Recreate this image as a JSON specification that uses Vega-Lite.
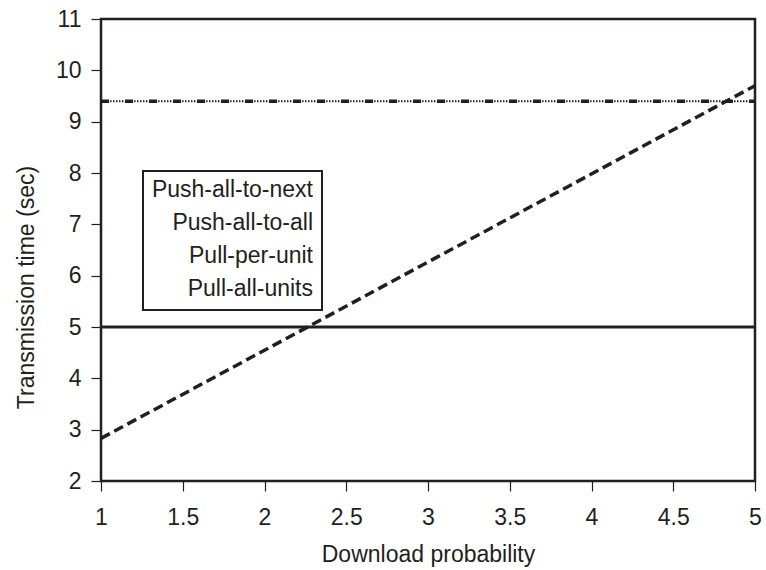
{
  "$schema": "https://vega.github.io/schema/vega-lite/v6.json",
  "width": 654,
  "height": 462,
  "autosize": "none",
  "padding": {"left": 101, "top": 19, "right": 11, "bottom": 89},
  "background": "white",
  "config": {
    "font": "Liberation Sans",
    "view": {"stroke": "#231f20", "strokeWidth": 2.5},
    "axis": {
      "domain": false,
      "grid": false,
      "tickColor": "#231f20",
      "tickWidth": 1.2,
      "tickSize": 10,
      "labelFont": "Liberation Sans",
      "labelFontSize": 23,
      "labelColor": "#231f20",
      "titleFont": "Liberation Sans",
      "titleFontSize": 23,
      "titleFontWeight": "normal",
      "titleColor": "#231f20"
    },
    "legend": {
      "orient": "none",
      "legendX": 42,
      "legendY": 152,
      "padding": 9,
      "strokeColor": "#231f20",
      "strokeWidth": 2,
      "fillColor": "white",
      "symbolType": "stroke",
      "symbolSize": 11664,
      "symbolStrokeColor": "#231f20",
      "symbolStrokeWidth": 3,
      "labelFont": "Liberation Sans",
      "labelFontSize": 23,
      "labelColor": "#231f20",
      "labelLimit": 400,
      "clipHeight": 20,
      "rowPadding": 10
    }
  },
  "data": {
    "values": [
      {"p": 1, "t": 5, "series": "Push-all-to-next"},
      {"p": 5, "t": 5, "series": "Push-all-to-next"},
      {"p": 1, "t": 9.4, "series": "Pull-all-units"},
      {"p": 5, "t": 9.4, "series": "Pull-all-units"},
      {"p": 1, "t": 9.4, "series": "Push-all-to-all"},
      {"p": 5, "t": 9.4, "series": "Push-all-to-all"},
      {"p": 1, "t": 2.83, "series": "Pull-per-unit"},
      {"p": 5, "t": 9.7, "series": "Pull-per-unit"}
    ]
  },
  "encoding": {
    "x": {
      "field": "p",
      "type": "quantitative",
      "scale": {"domain": [1, 5], "nice": false, "zero": false},
      "axis": {
        "values": [1, 1.5, 2, 2.5, 3, 3.5, 4, 4.5, 5],
        "format": "~g",
        "title": "Download probability",
        "labelPadding": 15,
        "titlePadding": 14,
        "labelFlush": false
      }
    },
    "y": {
      "field": "t",
      "type": "quantitative",
      "scale": {"domain": [2, 11], "nice": false, "zero": false},
      "axis": {
        "values": [2, 3, 4, 5, 6, 7, 8, 9, 10, 11],
        "title": "Transmission time (sec)",
        "labelPadding": 10,
        "titleX": -68,
        "titleY": 268,
        "titleAlign": "center",
        "titleBaseline": "alphabetic",
        "titleAngle": 270
      }
    },
    "strokeDash": {
      "field": "series",
      "type": "nominal",
      "scale": {
        "domain": ["Push-all-to-next", "Push-all-to-all", "Pull-per-unit", "Pull-all-units"],
        "range": [[1, 0], [1.5, 1.5], [10, 5], [8, 16]]
      },
      "legend": {
        "title": null,
        "encode": {
          "symbols": {
            "update": {
              "x": {"value": 227},
              "shape": {"value": "stroke"},
              "size": {"value": 11664},
              "stroke": {"value": "#231f20"},
              "strokeWidth": {"value": 3},
              "strokeDash": {"scale": "strokeDash", "field": "value"},
              "opacity": {"value": 1}
            }
          },
          "labels": {"update": {"x": {"value": 161}, "align": {"value": "right"}}}
        }
      }
    }
  },
  "layer": [
    {
      "transform": [{"filter": "datum.series === 'Push-all-to-next'"}],
      "mark": {"type": "line", "color": "#231f20", "strokeWidth": 3}
    },
    {
      "transform": [{"filter": "datum.series === 'Pull-per-unit'"}],
      "mark": {"type": "line", "color": "#231f20", "strokeWidth": 3.5}
    },
    {
      "transform": [{"filter": "datum.series === 'Pull-all-units'"}],
      "mark": {"type": "line", "color": "#231f20", "strokeWidth": 3.5}
    },
    {
      "transform": [{"filter": "datum.series === 'Push-all-to-all'"}],
      "mark": {"type": "line", "color": "#231f20", "strokeWidth": 2}
    }
  ]
}
